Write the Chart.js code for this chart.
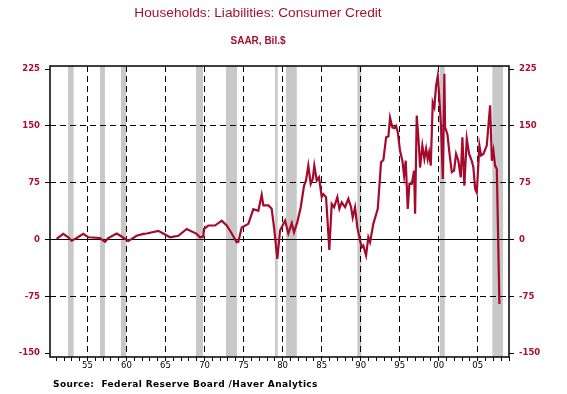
<!DOCTYPE html>
<html>
<head>
<meta charset="utf-8">
<script src="https://cdn.jsdelivr.net/npm/chart.js@4/dist/chart.umd.min.js"></script>
<style>
  html, body { margin: 0; padding: 0; background: #fff; }
  #wrap { position: relative; width: 567px; height: 394px; }
  .ttl {
    position: absolute; left: 0; width: 516px; text-align: center;
    color: #A8102E; font-family: "Liberation Sans", Arial, sans-serif; white-space: nowrap;
  }
  #title { top: 4px; font-size: 13.7px; line-height: 18px; }
  #subtitle { top: 35px; font-size: 10px; line-height: 12px; font-weight: bold; }
  #source {
    position: absolute; left: 53px; top: 378px; white-space: nowrap;
    font-family: "DejaVu Sans", Verdana, sans-serif; font-size: 9px; line-height: 12px;
    font-weight: bold; letter-spacing: 0.4px; color: #000;
  }
</style>
</head>
<body>
<div id="wrap">
  <div class="ttl" id="title">Households: Liabilities: Consumer Credit</div>
  <div class="ttl" id="subtitle">SAAR, Bil.$</div>
  <canvas id="chart" width="567" height="394"></canvas>
  <div id="source">Source:&nbsp; Federal Reserve Board /Haver Analytics</div>
</div>
<script>
"use strict";

// --- Data ---------------------------------------------------------------------

const years = [
  1951.05, 1951.90, 1952.54, 1952.98, 1953.62, 1954.46, 1955.10, 1956.60, 1957.24, 1957.67,
  1958.74, 1959.38, 1960.23, 1961.30, 1962.15, 1962.59, 1964.07, 1964.71, 1965.57, 1966.64,
  1967.71, 1968.99, 1969.42, 1969.84, 1969.93, 1970.48, 1971.34, 1972.20, 1972.84, 1973.48,
  1974.12, 1974.32, 1974.76, 1975.61, 1976.25, 1976.89, 1977.32, 1977.53, 1978.17, 1978.60,
  1978.90, 1979.32, 1979.67, 1980.31, 1980.73, 1981.17, 1981.46, 1981.88, 1982.32, 1982.74,
  1983.00, 1983.29, 1983.60, 1983.86, 1984.06, 1984.37, 1984.66, 1985.01, 1985.22, 1985.56,
  1985.73, 1985.98, 1986.29, 1986.59, 1987.01, 1987.27, 1987.57, 1988.00, 1988.42, 1988.77,
  1988.98, 1989.28, 1989.57, 1989.92, 1990.14, 1990.34, 1990.69, 1990.98, 1991.20, 1991.62,
  1992.19, 1992.61, 1992.91, 1993.26, 1993.55, 1993.76, 1994.06, 1994.31, 1994.53, 1994.75,
  1995.04, 1995.34, 1995.56, 1995.77, 1996.03, 1996.24, 1996.54, 1996.84, 1996.97, 1997.18,
  1997.39, 1997.61, 1997.90, 1998.16, 1998.38, 1998.59, 1998.76, 1998.98, 1999.23, 1999.44,
  1999.66, 1999.88, 2000.04, 2000.30, 2000.52, 2000.72, 2000.81, 2001.11, 2001.36, 2001.67,
  2001.96, 2002.22, 2002.51, 2002.82, 2003.03, 2003.28, 2003.59, 2003.89, 2004.23, 2004.44,
  2004.66, 2004.87, 2005.08, 2005.21, 2005.42, 2005.72, 2006.15, 2006.58, 2006.80, 2007.00,
  2007.22, 2007.44, 2007.77,
];

// Consumer credit, SAAR, bil. $
const credit = [
  1, 7.5, 3, -1.5, 2, 7.5, 3, 2, -3, 2,
  8, 4, -2, 5, 7.5, 8, 11.5, 8, 3, 5,
  14, 7.5, 3, 4, 14, 18.5, 18.5, 25, 18.5, 8,
  -3.5, -3, 16, 20.7, 40, 38, 59, 45, 45, 40.5,
  16, -25.5, 12, 25, 8, 21.5, 9.7, 23, 42.6, 71,
  78, 97.6, 73.5, 80, 97.6, 78, 82, 56, 60, 56,
  29, -13.6, 47, 42.6, 56, 40.5, 49, 42.6, 53.7, 42.6,
  29, 42.6, 16, -1.3, -10, -8, -21, 3, -3.5, 20.7,
  40.5, 102, 105, 135, 136, 161, 148, 147, 150, 141.6,
  117, 104, 84, 104, 40.5, 73.5, 73.5, 91, 34, 163.6,
  135, 95, 124, 106.5, 119.7, 106, 115, 97.6, 181, 174.5,
  203, 216, 192, 148, 80, 218.6, 148, 139, 115, 89,
  91, 113, 104, 82, 135, 71, 133, 113, 104, 95,
  67, 62, 100, 124, 111, 113, 124, 177, 104, 117,
  97.6, 93, -85,
];

// Recession shading (start / end, same year scale as the series)
const recStart = [1952.50, 1956.60, 1959.29, 1968.90, 1972.75, 1979.03, 1980.44, 1989.57, 2000.13, 2006.87];
const recEnd   = [1953.23, 1957.24, 1959.97, 1969.80, 1974.16, 1979.37, 1981.81, 1990.09, 2000.77, 2008.24];

const yTicks = [-150, -75, 0, 75, 150, 225];
const labelYears = [1955, 1960, 1965, 1970, 1975, 1980, 1985, 1990, 1995, 2000, 2005];

// --- Style ---------------------------------------------------------------------

const RED = "#A8102E";
const LINE = "#A50A2C";
const TICKFONT = "'DejaVu Sans', Verdana, sans-serif";

// --- Plugins ---------------------------------------------------------------------

const recessions = {
  id: "recessions",
  beforeDraw(chart) {
    const { ctx, chartArea: a, scales: { x } } = chart;
    ctx.save();
    ctx.fillStyle = "#C8C8C8";
    recStart.forEach((s, i) => {
      const x0 = x.getPixelForValue(s);
      const x1 = x.getPixelForValue(recEnd[i]);
      ctx.fillRect(x0, a.top, x1 - x0, a.bottom - a.top);
    });
    ctx.restore();
  },
};

const frame = {
  id: "frame",
  afterDraw(chart) {
    const { ctx, chartArea: a } = chart;
    ctx.save();
    ctx.strokeStyle = "#000";
    ctx.lineWidth = 1.5;
    ctx.strokeRect(a.left, a.top, a.right - a.left, a.bottom - a.top);
    ctx.restore();
  },
};

// --- Chart ---------------------------------------------------------------------

const minorYears = [];
for (let y = 1951; y <= 2009; y++) minorYears.push(y);

const yAxis = (pos) => ({
  type: "linear",
  position: pos,
  min: -155,
  max: 229,
  afterBuildTicks: (s) => { s.ticks = yTicks.map((v) => ({ value: v })); },
  afterFit: (s) => { s.width = pos === "left" ? 50 : 58; },
  grid: {
    drawOnChartArea: pos === "left",
    color: (c) => (c.tick && (c.tick.value === 225 || c.tick.value === -150) ? "transparent" : "#000"),
    tickColor: "#000",
    tickLength: 5,
    lineWidth: 1,
  },
  border: {
    display: false,
    dash: (c) => (c.tick && c.tick.value === 0 ? [] : [6, 4]),
  },
  ticks: {
    color: RED,
    padding: 5,
    font: { family: TICKFONT, size: 8.5, weight: "bold" },
  },
});

new Chart(document.getElementById("chart"), {
  type: "line",
  data: {
    datasets: [{
      data: years.map((y, i) => ({ x: y, y: credit[i] })),
      borderColor: LINE,
      borderWidth: 2.2,
      pointRadius: 0,
      tension: 0,
    }],
  },
  options: {
    responsive: false,
    animation: false,
    layout: { padding: { top: 66, left: 0, right: 0, bottom: 0 } },
    plugins: {
      legend: { display: false },
      tooltip: { enabled: false },
    },
    scales: {
      x: {
        type: "linear",
        min: 1950.2,
        max: 2009,
        afterBuildTicks: (s) => { s.ticks = minorYears.map((v) => ({ value: v })); },
        afterFit: (s) => { s.height = 37; },
        grid: {
          color: (c) => (c.tick && labelYears.includes(c.tick.value) ? "#000" : "transparent"),
          tickColor: "#000",
          tickLength: 4,
          lineWidth: 1,
        },
        border: { display: false, dash: [6, 4] },
        ticks: {
          autoSkip: false,
          maxRotation: 0,
          padding: 0,
          color: "#000",
          font: { family: TICKFONT, size: 8.5 },
          callback: (v) => (labelYears.includes(v) ? String(v % 100).padStart(2, "0") : ""),
        },
      },
      y: yAxis("left"),
      y2: yAxis("right"),
    },
  },
  plugins: [recessions, frame],
});
</script>
</body>
</html>
